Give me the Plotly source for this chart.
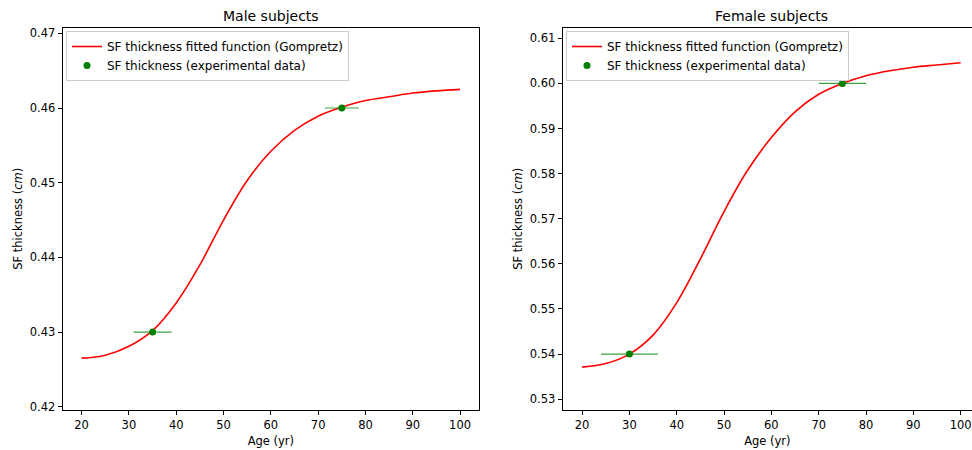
import plotly.graph_objects as go

# ---- data ----
ages = [20, 25, 30, 35, 40, 45, 50, 55, 60, 65, 70, 75, 80, 85, 90, 95, 100]
male_fit = [0.4265, 0.4269, 0.4281, 0.4302, 0.4339, 0.4390, 0.4450, 0.4503,
            0.4542, 0.4570, 0.4589, 0.4601, 0.4610, 0.4615, 0.4620, 0.4623, 0.4625]
female_fit = [0.5371, 0.5379, 0.5400, 0.5442, 0.5514, 0.5611, 0.5716, 0.5808,
              0.5880, 0.5937, 0.5976, 0.6000, 0.6017, 0.6028, 0.6036, 0.6041, 0.6046]

male_age = [35, 75]
male_val = [0.43, 0.46]
male_age_err = [4.0, 3.6]

female_age = [30, 75]
female_val = [0.54, 0.60]
female_age_err = [6.0, 5.0]

x_ticks = [20, 30, 40, 50, 60, 70, 80, 90, 100]
male_y_ticks = [0.42, 0.43, 0.44, 0.45, 0.46, 0.47]
female_y_ticks = [0.53, 0.54, 0.55, 0.56, 0.57, 0.58, 0.59, 0.60, 0.61]

fit_name = "SF thickness fitted function (Gompretz)"
data_name = "SF thickness (experimental data)"

FONT = "DejaVu Sans"
W, H = 972, 450

fig = go.Figure()

# left (male)
fig.add_trace(go.Scatter(x=ages, y=male_fit, mode="lines", name=fit_name,
                         line=dict(color="red", width=1.6, shape="spline", smoothing=1.0),
                         xaxis="x", yaxis="y", legend="legend"))
fig.add_trace(go.Scatter(x=male_age, y=male_val, mode="markers", name=data_name,
                         marker=dict(color="green", size=7),
                         error_x=dict(type="data", array=male_age_err, color="rgba(0,128,0,0.75)",
                                      thickness=1.2, width=0),
                         xaxis="x", yaxis="y", legend="legend"))
# right (female)
fig.add_trace(go.Scatter(x=ages, y=female_fit, mode="lines", name=fit_name,
                         line=dict(color="red", width=1.6, shape="spline", smoothing=1.0),
                         xaxis="x2", yaxis="y2", legend="legend2"))
fig.add_trace(go.Scatter(x=female_age, y=female_val, mode="markers", name=data_name,
                         marker=dict(color="green", size=7),
                         error_x=dict(type="data", array=female_age_err, color="rgba(0,128,0,0.75)",
                                      thickness=1.2, width=0),
                         xaxis="x2", yaxis="y2", legend="legend2"))

ydom = [1 - 410 / H, 1 - 27.5 / H]
axis_common = dict(showgrid=False, zeroline=False, showline=True, linecolor="black",
                   linewidth=1, ticks="outside", ticklen=4, tickcolor="black",
                   automargin=False,
                   tickfont=dict(family=FONT, size=11.5, color="black"))

legend_common = dict(bgcolor="rgba(255,255,255,0.8)", bordercolor="#cccccc", borderwidth=1,
                     font=dict(family=FONT, size=12, color="black"),
                     xanchor="left", yanchor="top", tracegroupgap=0, itemwidth=30)

fig.update_layout(
    width=W, height=H,
    margin=dict(l=0, r=0, t=0, b=0, autoexpand=False),
    paper_bgcolor="white", plot_bgcolor="white",
    font=dict(family=FONT, size=11.5, color="black"),
    xaxis=dict(domain=[62.7 / W, 479 / W], range=[16, 104], tickvals=x_ticks,
               mirror=True, anchor="y",
               title=dict(text="Age (yr)", font=dict(family=FONT, size=11.5), standoff=6),
               **axis_common),
    yaxis=dict(domain=ydom, range=[0.41956, 0.47078], tickvals=male_y_ticks,
               tickformat=".2f", mirror=True, anchor="x",
               title=dict(text="SF thickness (<i>cm</i>)", font=dict(family=FONT, size=11.5), standoff=4),
               **axis_common),
    xaxis2=dict(domain=[562.7 / W, 1.0], range=[15.9, 102.4], tickvals=x_ticks,
                mirror=True, anchor="y2",
                title=dict(text="Age (yr)", font=dict(family=FONT, size=11.5), standoff=6),
                **axis_common),
    yaxis2=dict(domain=ydom, range=[0.5276, 0.6124], tickvals=female_y_ticks,
                tickformat=".2f", mirror=False, anchor="x2",
                title=dict(text="SF thickness (<i>cm</i>)", font=dict(family=FONT, size=11.5), standoff=4),
                **axis_common),
    legend=dict(x=66 / W, y=1 - 31 / H, **legend_common),
    legend2=dict(x=566 / W, y=1 - 31 / H, **legend_common),
    annotations=[
        dict(text="Male subjects", x=(62.7 + 479) / 2 / W, y=1 - 16 / H, xref="paper", yref="paper",
             showarrow=False, xanchor="center", yanchor="middle",
             font=dict(family=FONT, size=14, color="black")),
        dict(text="Female subjects", x=(562.7 + 979.6) / 2 / W, y=1 - 16 / H, xref="paper", yref="paper",
             showarrow=False, xanchor="center", yanchor="middle",
             font=dict(family=FONT, size=14, color="black")),
    ],
)

fig.write_html("out.html", config={"displayModeBar": False},
               post_script="document.body.style.margin='0';document.body.style.padding='0';")
